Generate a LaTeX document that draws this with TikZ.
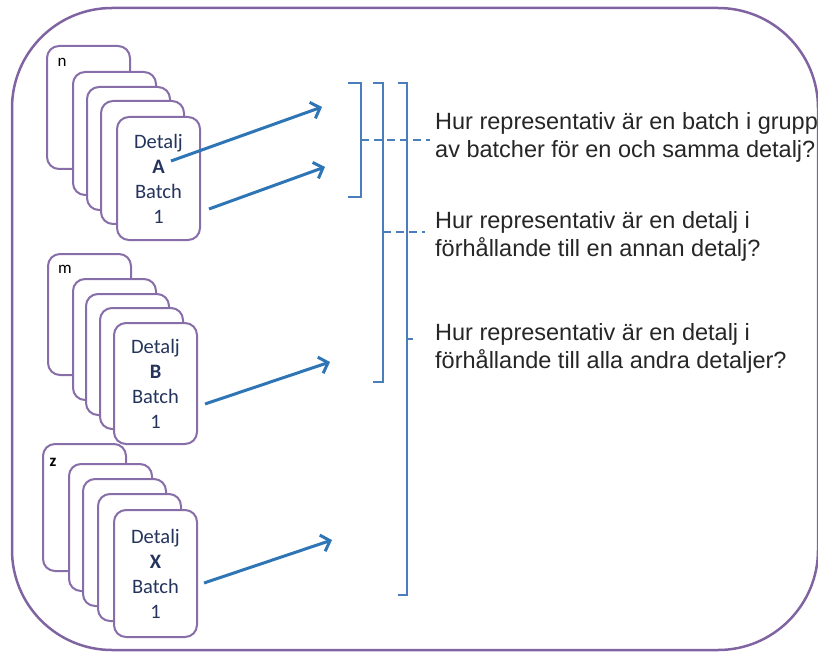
\documentclass[tikz,border=0pt]{standalone}
\usepackage{fontspec}
\setmainfont{Carlito}
\newfontfamily\qfont{Liberation Sans}
\usetikzlibrary{arrows.meta,positioning}

\definecolor{framepurple}{RGB}{128,100,162}
\definecolor{cardpurple}{RGB}{135,110,168}
\definecolor{carddark}{RGB}{36,52,92}
\definecolor{arrowblue}{RGB}{46,117,182}
\definecolor{braceblue}{RGB}{74,126,187}
\definecolor{qgray}{RGB}{38,38,38}

\begin{document}
\begin{tikzpicture}
	[x=1pt,y=-1pt,
	 card/.style={draw=cardpurple,line width=2pt,fill=white,rounded corners=12pt,anchor=north west,inner sep=0pt,minimum width=83pt,minimum height=123pt},
	 cardtext/.style={text=carddark,align=center,font=\fontsize{20.5}{25}\selectfont},
	 cardlbl/.style={inner sep=0pt,font=\fontsize{17}{18}\selectfont},
	 question/.style={anchor=west,align=left,inner sep=0pt,text=qgray,font=\qfont\fontsize{23.5}{28}\selectfont},
	 link/.style={draw=arrowblue,line width=3pt,-{Straight Barb[length=8pt,width=17pt,line width=3pt]}},
	 brace/.style={draw=braceblue,line width=2pt},
	 bracedash/.style={draw=braceblue,line width=2pt,dash pattern=on 8pt off 5pt}]

	%\draw[help lines,step=50] (0,0) grid (818,652);
	\useasboundingbox (0,0) rectangle (818,652);
	\draw[framepurple,line width=2.5pt,rounded corners=100pt] (12,8) rectangle (818,650);

	% detalj A
	\foreach \nm/\px/\py in {An/46/45, A2/72/71, A3/86/86, A4/100/100}
		\node[card] (card\nm) at (\px,\py) {};
	\node[card,cardtext] (detA) at (116,116) {Detalj\\\textbf{A}\\Batch\\1};
	\node[cardlbl] (lblA) at ([xshift=16pt,yshift=-17pt]cardAn.north west) {n};

	% detalj B
	\foreach \nm/\px/\py in {Bm/47/253, B2/72/278, B3/85/293, B4/99/307}
		\node[card,minimum height=121pt] (card\nm) at (\px,\py) {};
	\node[card,cardtext,minimum height=121pt] (detB) at (113,322) {Detalj\\\textbf{B}\\Batch\\1};
	\node[cardlbl] (lblB) at ([xshift=18pt,yshift=-16pt]cardBm.north west) {m};

	% detalj X
	\foreach \nm/\px/\py in {Xz/42/443, X2/68/463, X3/82/478, X4/97/493}
		\node[card,minimum height=127pt] (card\nm) at (\px,\py) {};
	\node[card,cardtext,minimum height=127pt] (detX) at (113,509) {Detalj\\\textbf{X}\\Batch\\1};
	\node[cardlbl] (lblX) at ([xshift=11pt,yshift=-19pt]cardXz.north west) {\textbf{z}};

	% questions
	\node[question] (q1) at (435,137) {Hur representativ är en batch i grupp\\av batcher för en och samma detalj?};
	\node[question] (q2) at (435,236.5) {Hur representativ är en detalj i\\förhållande till en annan detalj?};
	\node[question] (q3) at (435,348.5) {Hur representativ är en detalj i\\förhållande till alla andra detaljer?};

	% arrows
	\coordinate (tipA1) at (322,107);
	\coordinate (tipA2) at (325,167);
	\coordinate (tipB) at (330,362);
	\coordinate (tipX) at (332,540);
	\draw[link] ([xshift=12.5pt,yshift=17.5pt]detA.center) -- (tipA1);
	\draw[link] ([xshift=8pt,yshift=-30.5pt]detA.east) -- (tipA2);
	\draw[link] ([xshift=7pt,yshift=-20.5pt]detB.east) -- (tipB);
	\draw[link] ([xshift=6pt,yshift=-9.5pt]detX.east) -- (tipX);

	% brackets
	\coordinate (mid1) at (361,140);
	\coordinate (mid2) at (383,232);
	\coordinate (mid3) at (407,339);
	\draw[brace] (348,83) -- (361,83) -- (361,197) -- (348,197);
	\draw[brace] (373,83) -- (383,83) -- (383,382) -- (373,382);
	\draw[brace] (398,83) -- (407,83) -- (407,595) -- (398,595);
	\draw[bracedash] (mid1) -- ([xshift=-5pt]mid1 -| q1.west);
	\draw[bracedash] (mid2) -- ([xshift=-10pt]mid2 -| q2.west);
	\draw[brace] (mid3) -- ++(6,0);

\end{tikzpicture}
\end{document}
